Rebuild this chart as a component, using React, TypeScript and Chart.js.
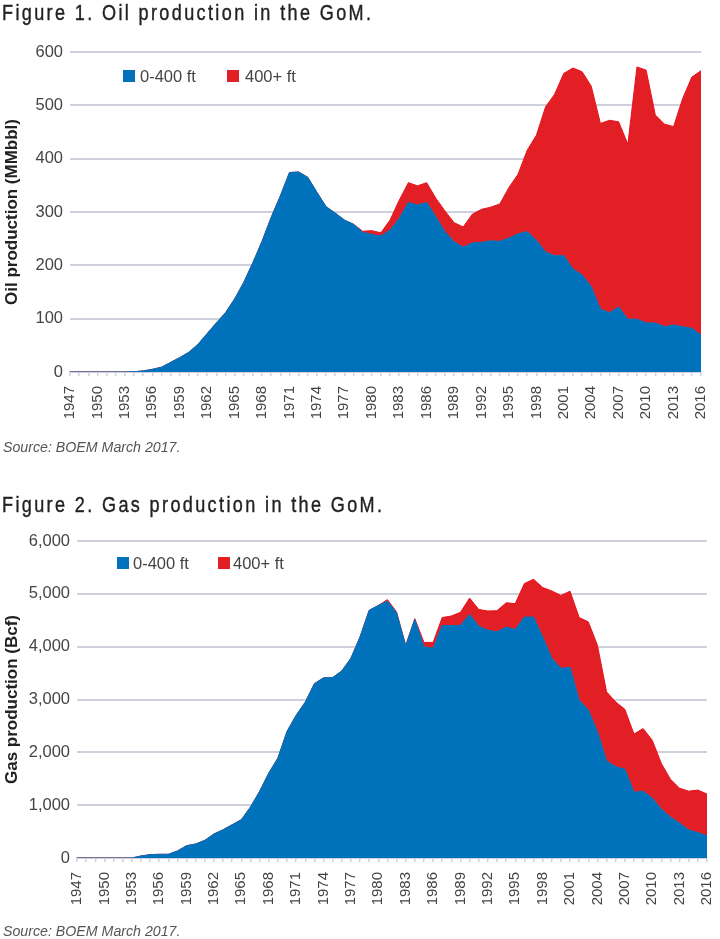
import React, { useEffect, useRef } from 'react';
import { Chart, registerables } from 'chart.js';

Chart.register(...registerables);

const years = [
  1947, 1948, 1949, 1950, 1951, 1952, 1953, 1954, 1955, 1956, 1957, 1958, 1959, 1960, 1961, 1962, 1963, 1964,
  1965, 1966, 1967, 1968, 1969, 1970, 1971, 1972, 1973, 1974, 1975, 1976, 1977, 1978, 1979, 1980, 1981, 1982,
  1983, 1984, 1985, 1986, 1987, 1988, 1989, 1990, 1991, 1992, 1993, 1994, 1995, 1996, 1997, 1998, 1999, 2000,
  2001, 2002, 2003, 2004, 2005, 2006, 2007, 2008, 2009, 2010, 2011, 2012, 2013, 2014, 2015, 2016,
].map(String);

// Oil, MMbbl
const oilShallow = [
  0, 0, 0, 0, 0, 0, 0, 0.5, 2, 5, 9, 18, 27, 37, 52, 72, 92, 111,
  137, 168, 205, 245, 290, 330, 374, 375, 365, 337, 310, 298, 285, 277, 262, 258, 255, 266,
  288, 318, 313, 318, 291, 263, 244, 234, 242, 243, 246, 245, 251, 259, 263, 247, 225, 218,
  218, 193, 182, 160, 118, 111, 122, 99, 99, 92, 92, 85, 88, 85, 82, 69,
];
const oilDeep = [
  0, 0, 0, 0, 0, 0, 0, 0, 0, 0, 0, 0, 0, 0, 0, 0, 0, 0,
  0, 0, 0, 0, 0, 0, 0, 0, 0, 0, 0, 0, 0, 0, 2, 7, 6, 19,
  34, 37, 36, 37, 35, 39, 36, 38, 54, 62, 63, 70, 95, 112, 153, 197, 272, 303,
  342, 377, 381, 376, 348, 361, 347, 328, 473, 474, 390, 380, 372, 428, 471, 496,
];

// Gas, Bcf
const gasShallow = [
  0, 0, 0, 0, 0, 0, 0, 38, 63, 70, 70, 132, 233, 265, 334, 454, 535, 630,
  725, 964, 1260, 1606, 1890, 2394, 2700, 2950, 3300, 3410, 3415, 3540, 3780, 4185, 4688, 4780, 4860, 4640,
  4016, 4510, 3995, 3970, 4400, 4400, 4400, 4610, 4385, 4310, 4280, 4370, 4325, 4560, 4560, 4185, 3780, 3590,
  3610, 2985, 2800, 2390, 1840, 1725, 1680, 1245, 1265, 1135, 925, 775, 660, 530, 480, 420,
];
const gasDeep = [
  0, 0, 0, 0, 0, 0, 0, 0, 0, 0, 0, 0, 0, 0, 0, 0, 0, 0,
  0, 0, 0, 0, 0, 0, 0, 0, 0, 0, 0, 0, 0, 0, 0, 0, 30, 16,
  10, 20, 85, 110, 150, 180, 250, 310, 320, 365, 400, 460, 490, 635, 715, 935, 1275, 1380,
  1440, 1565, 1670, 1635, 1305, 1230, 1135, 1100, 1185, 1095, 865, 715, 660, 735, 805, 790,
];

const BLUE = '#0072BC';
const RED = '#E31F26';
const GRID = '#CFD0DC';
const TEXT = '#444444';
const FONT = '"Liberation Sans", Arial, sans-serif';

interface IAreaChart {
  shallow: number[];
  deep: number[];
  yTitle: string;
  yMax: number;
  yStep: number;
  top: number; // canvas top on the page
  plotLeft: number;
  plotRight: number;
  plotTop: number;
  plotBottom: number;
}

const CANVAS_W = 720;
const CANVAS_H = 455;

const AreaChart: React.FC<IAreaChart> = (props) => {
  const { shallow, deep, yTitle, yMax, yStep, top, plotLeft, plotRight, plotTop, plotBottom } = props;
  const canvasRef = useRef<HTMLCanvasElement>(null);

  useEffect(() => {
    const chart = new Chart(canvasRef.current!, {
      type: 'line',
      data: {
        labels: years,
        datasets: [
          {
            label: '0-400 ft',
            data: shallow,
            backgroundColor: BLUE,
            borderColor: BLUE,
            borderWidth: 1,
            fill: 'origin',
            pointRadius: 0,
            tension: 0,
          },
          {
            label: '400+ ft',
            data: deep,
            backgroundColor: RED,
            borderColor: '#E8121C',
            borderWidth: 1,
            fill: '-1',
            pointRadius: 0,
            tension: 0,
          },
        ],
      },
      options: {
        responsive: false,
        animation: false,
        layout: {
          autoPadding: false,
          padding: { left: 0, top: plotTop, right: CANVAS_W - plotRight, bottom: 0 },
        },
        plugins: { legend: { display: false }, tooltip: { enabled: false } },
        scales: {
          x: {
            offset: false,
            afterFit: (scale: any) => {
              scale.height = CANVAS_H - plotBottom;
              scale.paddingLeft = 0;
              scale.paddingRight = 0;
            },
            grid: { drawOnChartArea: false, color: GRID, tickLength: 4, lineWidth: 1.5 },
            border: { color: GRID, width: 1.5 },
            ticks: {
              autoSkip: false,
              minRotation: 90,
              maxRotation: 90,
              padding: 10,
              color: TEXT,
              font: { family: FONT, size: 15 },
              callback: (_v: any, i: number) => (i % 3 === 0 ? years[i] : ''),
            },
          },
          y: {
            stacked: true,
            min: 0,
            max: yMax,
            afterFit: (scale: any) => {
              scale.width = plotLeft;
            },
            title: {
              display: true,
              text: yTitle,
              color: '#222222',
              font: { family: FONT, size: 17, weight: 'bold' },
              padding: { top: 2, bottom: 0 },
            },
            grid: { color: GRID, lineWidth: 2, drawTicks: false },
            border: { display: false },
            ticks: {
              stepSize: yStep,
              padding: 7,
              color: TEXT,
              font: { family: FONT, size: 16.5 },
              callback: (v: any) => Number(v).toLocaleString('en-US'),
            },
          },
        },
      },
    });
    return () => chart.destroy();
  }, []);

  return (
    <canvas
      ref={canvasRef}
      width={CANVAS_W}
      height={CANVAS_H}
      style={{ position: 'absolute', left: 0, top, width: CANVAS_W, height: CANVAS_H }}
    />
  );
};

const Label: React.FC<{ x: number; y: number; style?: React.CSSProperties; children: React.ReactNode }> = ({
  x,
  y,
  style,
  children,
}) => (
  <div style={{ position: 'absolute', left: x, top: y, whiteSpace: 'nowrap', lineHeight: 1, ...style }}>{children}</div>
);

// no condensed face is installed, so the title is squeezed and tracked out
const titleStyle: React.CSSProperties = {
  fontFamily: FONT,
  fontSize: 22,
  letterSpacing: 2.9,
  color: '#222222',
  WebkitTextStroke: '0.4px #222222',
  transform: 'scaleX(0.82)',
  transformOrigin: 'left center',
};
const sourceStyle: React.CSSProperties = { fontFamily: FONT, fontSize: 14.2, fontStyle: 'italic', color: '#555555' };
const legendStyle: React.CSSProperties = { fontFamily: FONT, fontSize: 16.5, color: TEXT };

const Legend: React.FC<{ y: number; blueX: number; blueTextX: number; redX: number; redTextX: number }> = (p) => (
  <>
    <div style={{ position: 'absolute', left: p.blueX, top: p.y - 6, width: 12, height: 12, background: BLUE }} />
    <Label x={p.blueTextX} y={p.y - 8} style={legendStyle}>
      0-400 ft
    </Label>
    <div style={{ position: 'absolute', left: p.redX, top: p.y - 6, width: 12, height: 12, background: RED }} />
    <Label x={p.redTextX} y={p.y - 8} style={legendStyle}>
      400+ ft
    </Label>
  </>
);

export default function App() {
  return (
    <div style={{ position: 'absolute', left: 0, top: 0, width: 720, height: 939, background: '#fff', overflow: 'hidden' }}>
      <AreaChart
        shallow={oilShallow}
        deep={oilDeep}
        yTitle="Oil production (MMbbl)"
        yMax={600}
        yStep={100}
        top={0}
        plotLeft={70}
        plotRight={701}
        plotTop={52}
        plotBottom={372}
      />
      <AreaChart
        shallow={gasShallow}
        deep={gasDeep}
        yTitle="Gas production (Bcf)"
        yMax={6000}
        yStep={1000}
        top={484}
        plotLeft={77}
        plotRight={707}
        plotTop={57}
        plotBottom={374}
      />
      <Label x={2} y={2} style={titleStyle}>
        Figure 1. Oil production in the GoM.
      </Label>
      <Legend y={76} blueX={123} blueTextX={140} redX={227} redTextX={245} />
      <Label x={3} y={440} style={sourceStyle}>
        Source: BOEM March 2017.
      </Label>
      <Label x={2} y={494} style={titleStyle}>
        Figure 2. Gas production in the GoM.
      </Label>
      <Legend y={563} blueX={117} blueTextX={133} redX={218} redTextX={233} />
      <Label x={3} y={924} style={sourceStyle}>
        Source: BOEM March 2017.
      </Label>
    </div>
  );
}
